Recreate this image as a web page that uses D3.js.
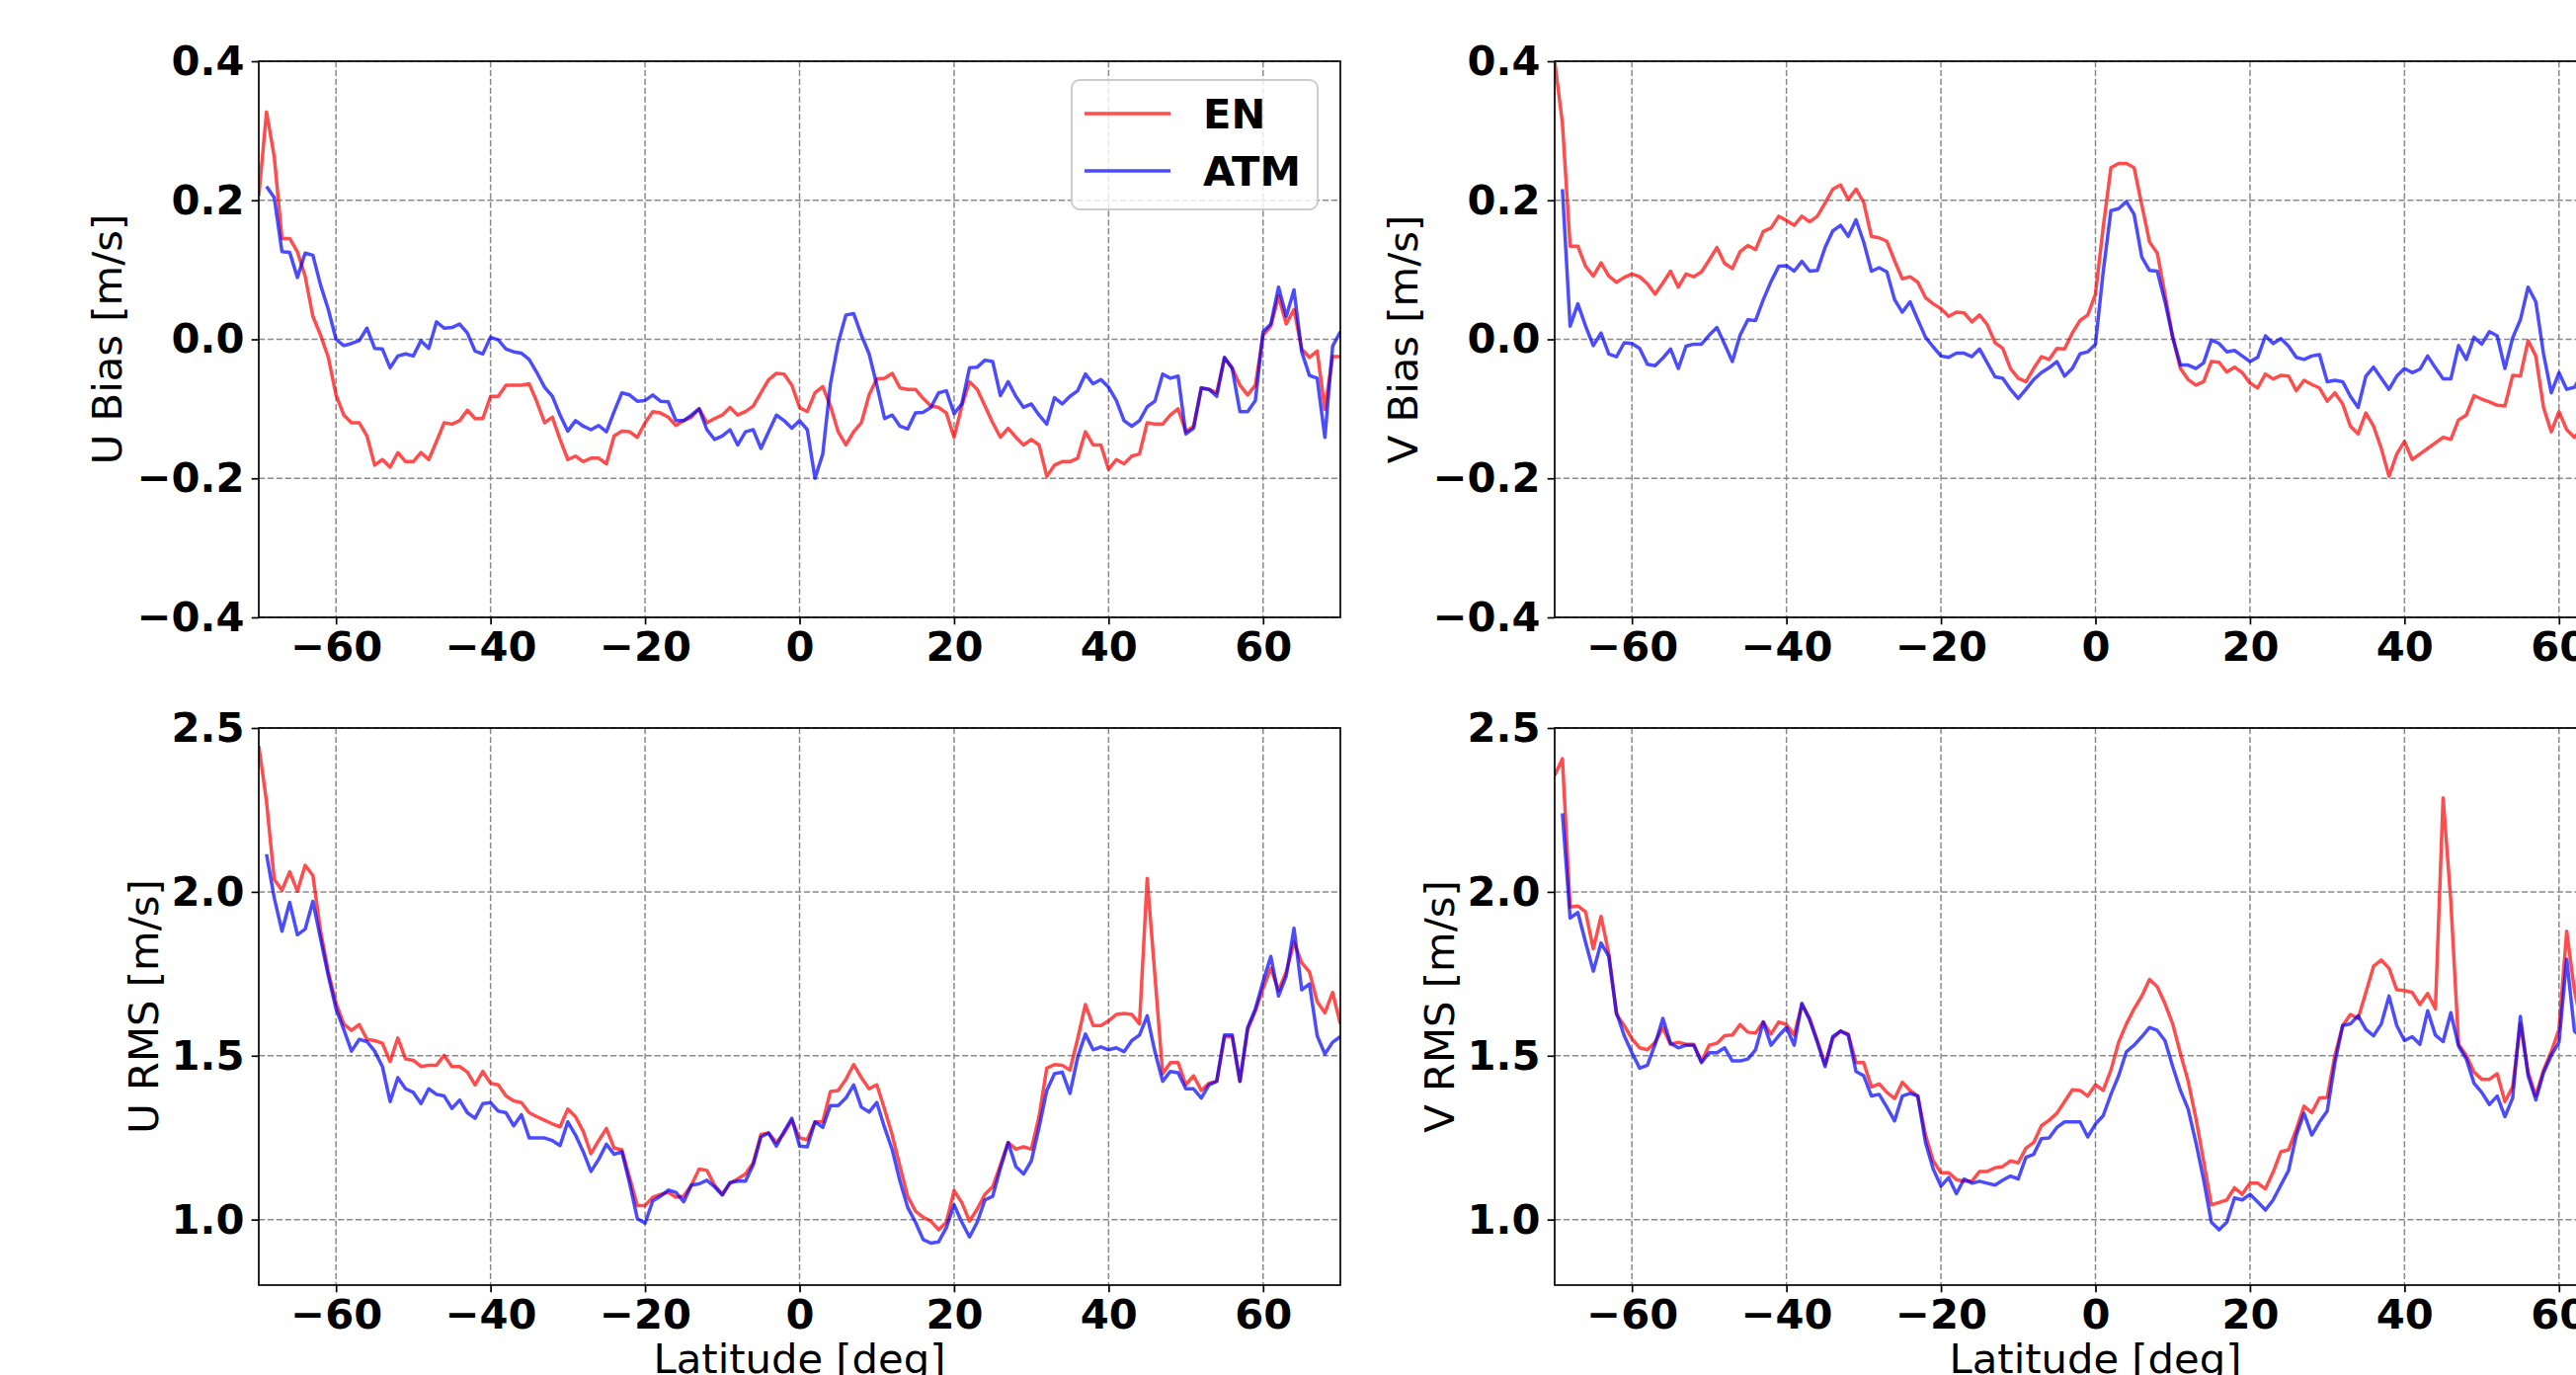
<!DOCTYPE html>
<html>
<head>
<meta charset="utf-8">
<script src="https://cdn.jsdelivr.net/npm/d3@7"></script>
<style>
  body { margin: 0; background: #fff; }
  svg { display: block; }
</style>
</head>
<body>
<div id="chart"></div>
<script>
// latitude grid (deg)
const LAT = [-70,-69,-68,-67,-66,-65,-64,-63,-62,-61,-60,-59,-58,-57,-56,-55,-54,-53,-52,-51,
  -50,-49,-48,-47,-46,-45,-44,-43,-42,-41,-40,-39,-38,-37,-36,-35,-34,-33,-32,-31,
  -30,-29,-28,-27,-26,-25,-24,-23,-22,-21,-20,-19,-18,-17,-16,-15,-14,-13,-12,-11,
  -10,-9,-8,-7,-6,-5,-4,-3,-2,-1,0,1,2,3,4,5,6,7,8,9,
  10,11,12,13,14,15,16,17,18,19,20,21,22,23,24,25,26,27,28,29,
  30,31,32,33,34,35,36,37,38,39,40,41,42,43,44,45,46,47,48,49,
  50,51,52,53,54,55,56,57,58,59,60,61,62,63,64,65,66,67,68,69,70];

const SERIES = ["EN", "ATM"];
const X_TICKS = [-60, -40, -20, 0, 20, 40, 60];
const BIAS_TICKS = [-0.4, -0.2, 0.0, 0.2, 0.4];
const RMS_TICKS = [1.0, 1.5, 2.0, 2.5];

// U bias, -70..70
const U_BIAS_EN = [0.206,0.327,0.263,0.145,0.145,0.126,0.091,0.033,0.006,-0.026,
  -0.080,-0.109,-0.120,-0.120,-0.139,-0.181,-0.173,-0.184,-0.163,-0.176,
  -0.176,-0.163,-0.173,-0.147,-0.120,-0.122,-0.117,-0.102,-0.114,-0.114,
  -0.082,-0.082,-0.066,-0.066,-0.066,-0.064,-0.090,-0.120,-0.112,-0.144,
  -0.173,-0.168,-0.176,-0.171,-0.171,-0.179,-0.139,-0.132,-0.133,-0.141,
  -0.120,-0.104,-0.106,-0.112,-0.124,-0.117,-0.112,-0.100,-0.120,-0.114,
  -0.109,-0.098,-0.109,-0.104,-0.096,-0.077,-0.058,-0.049,-0.050,-0.066,
  -0.098,-0.104,-0.077,-0.068,-0.096,-0.133,-0.152,-0.133,-0.120,-0.080,
  -0.057,-0.056,-0.049,-0.070,-0.072,-0.072,-0.085,-0.096,-0.098,-0.106,
  -0.141,-0.096,-0.061,-0.072,-0.096,-0.120,-0.141,-0.128,-0.141,-0.152,
  -0.144,-0.152,-0.197,-0.181,-0.176,-0.176,-0.171,-0.133,-0.152,-0.152,
  -0.187,-0.173,-0.179,-0.168,-0.165,-0.120,-0.122,-0.122,-0.109,-0.100,
  -0.133,-0.125,-0.070,-0.072,-0.077,-0.027,-0.041,-0.066,-0.080,-0.066,
  0.006,0.019,0.062,0.022,0.043,-0.014,-0.026,-0.017,-0.101,-0.025,-0.025];
const U_BIAS_ATM = [null,0.220,0.204,0.126,0.125,0.089,0.124,0.121,0.078,0.043,
  0.000,-0.009,-0.006,-0.002,0.016,-0.013,-0.014,-0.041,-0.024,-0.021,
  -0.024,-0.002,-0.013,0.025,0.016,0.017,0.022,0.009,-0.017,-0.021,
  0.003,-0.001,-0.014,-0.018,-0.020,-0.029,-0.048,-0.069,-0.082,-0.109,
  -0.132,-0.117,-0.125,-0.130,-0.124,-0.133,-0.104,-0.077,-0.080,-0.089,
  -0.088,-0.080,-0.089,-0.090,-0.117,-0.117,-0.109,-0.100,-0.130,-0.144,
  -0.139,-0.130,-0.152,-0.133,-0.130,-0.157,-0.133,-0.109,-0.117,-0.128,
  -0.117,-0.130,-0.200,-0.165,-0.064,-0.005,0.035,0.037,0.006,-0.021,
  -0.066,-0.114,-0.109,-0.125,-0.129,-0.106,-0.105,-0.098,-0.077,-0.074,
  -0.107,-0.093,-0.041,-0.040,-0.030,-0.032,-0.081,-0.061,-0.082,-0.098,
  -0.093,-0.109,-0.122,-0.084,-0.093,-0.082,-0.074,-0.050,-0.064,-0.058,
  -0.069,-0.088,-0.117,-0.125,-0.117,-0.097,-0.089,-0.050,-0.056,-0.053,
  -0.136,-0.128,-0.070,-0.072,-0.082,-0.026,-0.042,-0.104,-0.104,-0.088,
  0.011,0.022,0.075,0.033,0.071,-0.018,-0.052,-0.056,-0.141,-0.010,0.011];

// V bias, -70..63 (panel is cut by the page edge)
const V_BIAS_EN = [0.400,0.311,0.134,0.134,0.105,0.091,0.110,0.091,0.082,0.089,
  0.094,0.090,0.080,0.065,0.081,0.098,0.075,0.094,0.090,0.097,
  0.114,0.132,0.109,0.102,0.126,0.135,0.129,0.155,0.160,0.177,
  0.171,0.164,0.177,0.169,0.177,0.196,0.216,0.222,0.201,0.216,
  0.197,0.148,0.146,0.141,0.113,0.087,0.090,0.082,0.060,0.051,
  0.044,0.033,0.039,0.038,0.025,0.035,0.021,-0.005,-0.013,-0.042,
  -0.056,-0.061,-0.042,-0.025,-0.029,-0.013,-0.014,0.009,0.027,0.035,
  0.065,0.161,0.247,0.253,0.253,0.247,0.193,0.140,0.124,0.065,
  0.003,-0.042,-0.058,-0.066,-0.061,-0.032,-0.033,-0.047,-0.040,-0.048,
  -0.063,-0.070,-0.050,-0.057,-0.052,-0.053,-0.074,-0.059,-0.065,-0.070,
  -0.089,-0.077,-0.093,-0.125,-0.136,-0.106,-0.125,-0.157,-0.197,-0.165,
  -0.147,-0.173,-0.165,-0.157,-0.149,-0.141,-0.144,-0.116,-0.109,-0.081,
  -0.086,-0.090,-0.095,-0.096,-0.052,-0.053,-0.002,-0.024,-0.098,-0.133,
  -0.104,-0.130,-0.141,-0.128];
const V_BIAS_ATM = [null,0.216,0.019,0.051,0.019,-0.009,0.009,-0.021,-0.025,-0.005,
  -0.006,-0.013,-0.036,-0.038,-0.027,-0.014,-0.042,-0.010,-0.007,-0.007,
  0.006,0.017,-0.007,-0.032,0.006,0.028,0.027,0.057,0.083,0.105,
  0.106,0.098,0.112,0.098,0.099,0.132,0.156,0.164,0.148,0.172,
  0.140,0.098,0.103,0.097,0.057,0.039,0.054,0.028,0.003,-0.011,
  -0.024,-0.026,-0.020,-0.020,-0.025,-0.014,-0.034,-0.054,-0.056,-0.072,
  -0.085,-0.072,-0.058,-0.048,-0.041,-0.032,-0.053,-0.042,-0.021,-0.018,
  -0.007,0.097,0.185,0.188,0.198,0.180,0.118,0.099,0.098,0.054,
  0.003,-0.037,-0.037,-0.042,-0.034,-0.001,-0.006,-0.018,-0.016,-0.024,
  -0.032,-0.026,0.005,-0.006,0.001,-0.010,-0.026,-0.029,-0.024,-0.022,
  -0.061,-0.059,-0.061,-0.082,-0.098,-0.053,-0.040,-0.056,-0.072,-0.053,
  -0.042,-0.048,-0.043,-0.024,-0.041,-0.057,-0.057,-0.009,-0.029,0.003,
  -0.007,0.011,0.005,-0.042,0.002,0.028,0.075,0.054,-0.021,-0.077,
  -0.048,-0.072,-0.069,-0.050];

// U RMS, -70..70
const U_RMS_EN = [2.446,2.276,2.038,2.005,2.061,2.002,2.081,2.050,1.880,1.756,
  1.660,1.597,1.577,1.595,1.550,1.546,1.538,1.482,1.554,1.490,
  1.486,1.467,1.471,1.471,1.501,1.467,1.467,1.450,1.411,1.452,
  1.416,1.411,1.377,1.362,1.357,1.326,1.314,1.303,1.292,1.283,
  1.337,1.314,1.269,1.201,1.241,1.278,1.218,1.213,1.128,1.043,
  1.043,1.068,1.077,1.083,1.068,1.071,1.105,1.154,1.150,1.105,
  1.077,1.111,1.124,1.139,1.173,1.260,1.264,1.235,1.264,1.303,
  1.249,1.244,1.298,1.298,1.391,1.394,1.428,1.473,1.433,1.399,
  1.411,1.337,1.258,1.162,1.071,1.026,1.007,0.995,0.969,0.992,
  1.088,1.052,0.995,1.032,1.077,1.100,1.167,1.235,1.215,1.222,
  1.215,1.314,1.462,1.473,1.471,1.456,1.552,1.656,1.592,1.592,
  1.606,1.626,1.629,1.626,1.597,2.041,1.744,1.445,1.479,1.479,
  1.411,1.439,1.394,1.416,1.422,1.558,1.558,1.422,1.580,1.637,
  1.705,1.767,1.699,1.756,1.846,1.784,1.756,1.665,1.631,1.693,1.597];
const U_RMS_ATM = [null,2.115,1.982,1.880,1.968,1.869,1.886,1.971,1.857,1.744,
  1.643,1.580,1.514,1.550,1.543,1.514,1.467,1.360,1.433,1.399,
  1.388,1.354,1.399,1.382,1.377,1.339,1.365,1.326,1.309,1.354,
  1.357,1.331,1.326,1.286,1.320,1.249,1.249,1.249,1.241,1.226,
  1.298,1.258,1.207,1.147,1.184,1.230,1.199,1.207,1.111,1.003,
  0.989,1.057,1.071,1.090,1.083,1.054,1.105,1.109,1.120,1.100,
  1.075,1.113,1.117,1.117,1.167,1.252,1.264,1.224,1.269,1.309,
  1.224,1.222,1.298,1.281,1.348,1.348,1.371,1.411,1.343,1.328,
  1.357,1.281,1.213,1.117,1.037,0.992,0.939,0.928,0.932,0.975,
  1.045,0.992,0.947,0.992,1.060,1.071,1.156,1.235,1.162,1.139,
  1.179,1.281,1.394,1.445,1.450,1.385,1.495,1.566,1.518,1.527,
  1.518,1.524,1.512,1.546,1.563,1.622,1.512,1.422,1.452,1.448,
  1.399,1.399,1.371,1.411,1.422,1.563,1.563,1.422,1.586,1.643,
  1.727,1.803,1.682,1.744,1.889,1.701,1.719,1.561,1.505,1.541,1.558];

// V RMS, -70..63
const V_RMS_EN = [2.355,2.406,1.954,1.957,1.939,1.826,1.925,1.812,1.626,1.592,
  1.552,1.524,1.518,1.541,1.586,1.535,1.541,1.535,1.535,1.482,
  1.532,1.538,1.561,1.563,1.595,1.572,1.569,1.603,1.566,1.603,
  1.595,1.563,1.656,1.614,1.546,1.473,1.554,1.575,1.566,1.479,
  1.479,1.405,1.414,1.388,1.369,1.419,1.394,1.377,1.258,1.179,
  1.143,1.143,1.122,1.117,1.117,1.147,1.147,1.158,1.162,1.179,
  1.173,1.218,1.235,1.286,1.303,1.324,1.360,1.396,1.394,1.377,
  1.411,1.394,1.456,1.541,1.597,1.643,1.682,1.733,1.710,1.659,
  1.597,1.507,1.422,1.309,1.179,1.045,1.052,1.060,1.097,1.077,
  1.111,1.111,1.094,1.145,1.207,1.213,1.275,1.346,1.326,1.371,
  1.373,1.501,1.592,1.626,1.614,1.693,1.773,1.792,1.767,1.701,
  1.699,1.693,1.656,1.690,1.643,2.287,1.971,1.535,1.501,1.450,
  1.428,1.428,1.445,1.360,1.405,1.597,1.450,1.377,1.456,1.512,
  1.580,1.880,1.699,1.586];
const V_RMS_ATM = [null,2.240,1.920,1.937,1.846,1.758,1.844,1.803,1.631,1.561,
  1.509,1.462,1.471,1.535,1.614,1.538,1.524,1.532,1.532,1.479,
  1.509,1.509,1.524,1.484,1.484,1.490,1.518,1.603,1.532,1.561,
  1.586,1.532,1.660,1.609,1.541,1.467,1.558,1.575,1.563,1.452,
  1.439,1.377,1.382,1.343,1.301,1.377,1.385,1.377,1.235,1.154,
  1.102,1.128,1.079,1.124,1.111,1.117,1.111,1.105,1.120,1.133,
  1.124,1.190,1.199,1.247,1.249,1.281,1.298,1.298,1.298,1.252,
  1.292,1.317,1.382,1.439,1.512,1.532,1.558,1.586,1.577,1.546,
  1.467,1.394,1.337,1.235,1.122,0.992,0.969,0.992,1.066,1.060,
  1.077,1.054,1.029,1.060,1.105,1.150,1.258,1.324,1.258,1.298,
  1.331,1.479,1.592,1.597,1.622,1.580,1.561,1.597,1.682,1.592,
  1.546,1.558,1.535,1.637,1.563,1.543,1.631,1.529,1.490,1.416,
  1.388,1.351,1.377,1.314,1.371,1.620,1.439,1.365,1.448,1.501,
  1.541,1.795,1.575,1.552];

const W = 2608, H = 1392;
const COLORS = { EN: "#ff0000", ATM: "#0000ff" };
const FONT = "'DejaVu Sans', Verdana, sans-serif";
const FS = 41.7;

const panels = [
  { x: 262,  y: 62,  w: 1095, h: 563, ydom: [-0.4, 0.4], yticks: BIAS_TICKS, ylabel: "U Bias [m/s]", labelOff: 139,
    data: { EN: U_BIAS_EN, ATM: U_BIAS_ATM }, legend: true, xlabel: false },
  { x: 1574, y: 62,  w: 1095, h: 563, ydom: [-0.4, 0.4], yticks: BIAS_TICKS, ylabel: "V Bias [m/s]", labelOff: 139,
    data: { EN: V_BIAS_EN, ATM: V_BIAS_ATM }, legend: false, xlabel: false },
  { x: 262,  y: 737, w: 1095, h: 564, ydom: [0.8, 2.5], yticks: RMS_TICKS, ylabel: "U RMS [m/s]", labelOff: 102,
    data: { EN: U_RMS_EN, ATM: U_RMS_ATM }, legend: false, xlabel: true },
  { x: 1574, y: 737, w: 1095, h: 564, ydom: [0.8, 2.5], yticks: RMS_TICKS, ylabel: "V RMS [m/s]", labelOff: 102,
    data: { EN: V_RMS_EN, ATM: V_RMS_ATM }, legend: false, xlabel: true }
];

const svg = d3.select("#chart").append("svg")
  .attr("width", W).attr("height", H)
  .style("font-family", FONT);

svg.append("rect").attr("width", W).attr("height", H).attr("fill", "#fff");

panels.forEach((p, i) => {
  const x = d3.scaleLinear().domain([-70, 70]).range([0, p.w]);
  const y = d3.scaleLinear().domain(p.ydom).range([p.h, 0]);
  const g = svg.append("g").attr("transform", `translate(${p.x},${p.y})`);

  g.append("clipPath").attr("id", "clip" + i)
    .append("rect").attr("width", p.w).attr("height", p.h);

  // grid
  g.append("g").selectAll("line").data(X_TICKS).join("line")
    .attr("x1", d => x(d)).attr("x2", d => x(d)).attr("y1", 0).attr("y2", p.h)
    .attr("stroke", "#8a8a8a").attr("stroke-width", 1.5).attr("stroke-dasharray", "6.2,2.7");
  g.append("g").selectAll("line").data(p.yticks).join("line")
    .attr("x1", 0).attr("x2", p.w).attr("y1", d => y(d)).attr("y2", d => y(d))
    .attr("stroke", "#8a8a8a").attr("stroke-width", 1.5).attr("stroke-dasharray", "6.2,2.7");

  // lines
  SERIES.forEach(s => {
    const vals = p.data[s];
    const pts = vals.map((v, k) => ({ lat: LAT[k], v }));
    const line = d3.line().defined(d => d.v != null).x(d => x(d.lat)).y(d => y(d.v));
    g.append("path").datum(pts)
      .attr("clip-path", `url(#clip${i})`)
      .attr("fill", "none").attr("stroke", COLORS[s]).attr("stroke-opacity", 0.7)
      .attr("stroke-width", 3.5).attr("stroke-linejoin", "round")
      .attr("d", line);
  });

  // axes
  const ax = g.append("g").attr("transform", `translate(0,${p.h})`)
    .call(d3.axisBottom(x).tickValues(X_TICKS).tickFormat(d3.format("d")).tickSize(7.3).tickPadding(7.3));
  const ay = g.append("g")
    .call(d3.axisLeft(y).tickValues(p.yticks).tickFormat(d3.format(".1f")).tickSize(7.3).tickPadding(7.3));
  [ax, ay].forEach(a => {
    a.select(".domain").remove();
    a.selectAll(".tick line").attr("stroke", "#000").attr("stroke-width", 1.7);
    a.selectAll(".tick text").attr("fill", "#000").attr("font-size", FS).attr("font-weight", "bold")
      .attr("font-family", FONT);
  });

  // spines
  g.append("rect").attr("width", p.w).attr("height", p.h)
    .attr("fill", "none").attr("stroke", "#000").attr("stroke-width", 1.7);

  // y label
  g.append("text")
    .attr("transform", `translate(${-p.labelOff},${p.h / 2}) rotate(-90)`)
    .attr("text-anchor", "middle").attr("font-size", FS).attr("fill", "#000")
    .text(p.ylabel);

  if (p.xlabel) {
    g.append("text").attr("x", p.w / 2).attr("y", 653)
      .attr("text-anchor", "middle").attr("font-size", FS).attr("fill", "#000")
      .text("Latitude [deg]");
  }

  if (p.legend) {
    const lg = g.append("g").attr("transform", `translate(${1085 - p.x},${81 - p.y})`);
    lg.append("rect").attr("width", 249).attr("height", 131).attr("rx", 8)
      .attr("fill", "#fff").attr("fill-opacity", 0.8)
      .attr("stroke", "#cccccc").attr("stroke-width", 2);
    SERIES.forEach((s, k) => {
      const yy = 34 + k * 58;
      lg.append("line").attr("x1", 13).attr("x2", 100).attr("y1", yy).attr("y2", yy)
        .attr("stroke", COLORS[s]).attr("stroke-opacity", 0.7).attr("stroke-width", 3.5);
      lg.append("text").attr("x", 133).attr("y", yy + 15)
        .attr("font-size", FS).attr("font-weight", "bold").attr("fill", "#000")
        .text(s);
    });
  }
});
</script>
</body>
</html>
